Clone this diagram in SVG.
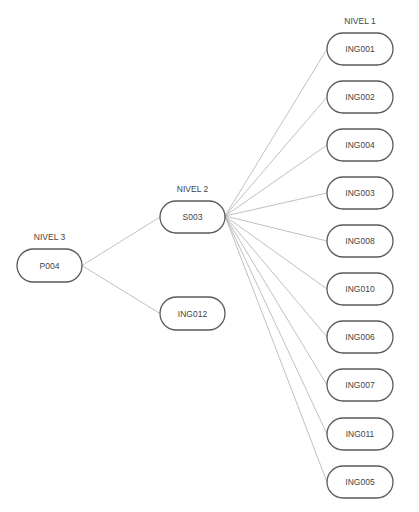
<svg xmlns="http://www.w3.org/2000/svg" width="419" height="512" viewBox="0 0 419 512">
<style>
.n{fill:#fff;stroke:#5a5a5a;stroke-width:1.3}
.t{font-family:"Liberation Sans",Arial,sans-serif;font-size:8.5px;fill:#444;text-anchor:middle}
.c{stroke:#b0b0b0;stroke-width:0.8;fill:none}
</style>
<rect width="419" height="512" fill="#fff"/>
<g id="connectors">
<line class="c" x1="82" y1="265.5" x2="160" y2="217"/>
<line class="c" x1="82" y1="265.5" x2="160" y2="313.5"/>
<line class="c" x1="225" y1="216" x2="327" y2="49"/>
<line class="c" x1="225" y1="216" x2="327" y2="97"/>
<line class="c" x1="225" y1="216" x2="327" y2="145"/>
<line class="c" x1="225" y1="216" x2="327" y2="193"/>
<line class="c" x1="225" y1="216" x2="327" y2="241"/>
<line class="c" x1="225" y1="216" x2="327" y2="289"/>
<line class="c" x1="225" y1="216" x2="327" y2="337"/>
<line class="c" x1="225" y1="216" x2="327" y2="385"/>
<line class="c" x1="225" y1="216" x2="327" y2="434"/>
<line class="c" x1="225" y1="216" x2="327" y2="482"/>
</g>
<text class="t" x="49.5" y="240">NIVEL 3</text>
<text class="t" x="192.5" y="192">NIVEL 2</text>
<text class="t" x="360" y="24">NIVEL 1</text>
<g id="P004"><rect class="n" x="17" y="249" width="65" height="33" rx="16.5"/><text class="t" x="49.5" y="268.5">P004</text></g>
<g id="S003"><rect class="n" x="160" y="201" width="65" height="32" rx="16"/><text class="t" x="192.5" y="220">S003</text></g>
<g id="ING012"><rect class="n" x="160" y="297" width="65" height="33" rx="16.5"/><text class="t" x="192.5" y="316.5">ING012</text></g>
<g id="ING001"><rect class="n" x="327" y="33" width="66" height="32" rx="16"/><text class="t" x="360" y="52">ING001</text></g>
<g id="ING002"><rect class="n" x="327" y="81" width="66" height="32" rx="16"/><text class="t" x="360" y="100">ING002</text></g>
<g id="ING004"><rect class="n" x="327" y="129" width="66" height="32" rx="16"/><text class="t" x="360" y="148">ING004</text></g>
<g id="ING003"><rect class="n" x="327" y="177" width="66" height="32" rx="16"/><text class="t" x="360" y="196">ING003</text></g>
<g id="ING008"><rect class="n" x="327" y="225" width="66" height="32" rx="16"/><text class="t" x="360" y="244">ING008</text></g>
<g id="ING010"><rect class="n" x="327" y="273" width="66" height="32" rx="16"/><text class="t" x="360" y="292">ING010</text></g>
<g id="ING006"><rect class="n" x="327" y="321" width="66" height="32" rx="16"/><text class="t" x="360" y="340">ING006</text></g>
<g id="ING007"><rect class="n" x="327" y="369" width="66" height="32" rx="16"/><text class="t" x="360" y="388">ING007</text></g>
<g id="ING011"><rect class="n" x="327" y="418" width="66" height="32" rx="16"/><text class="t" x="360" y="437">ING011</text></g>
<g id="ING005"><rect class="n" x="327" y="466" width="66" height="32" rx="16"/><text class="t" x="360" y="485">ING005</text></g>
</svg>
